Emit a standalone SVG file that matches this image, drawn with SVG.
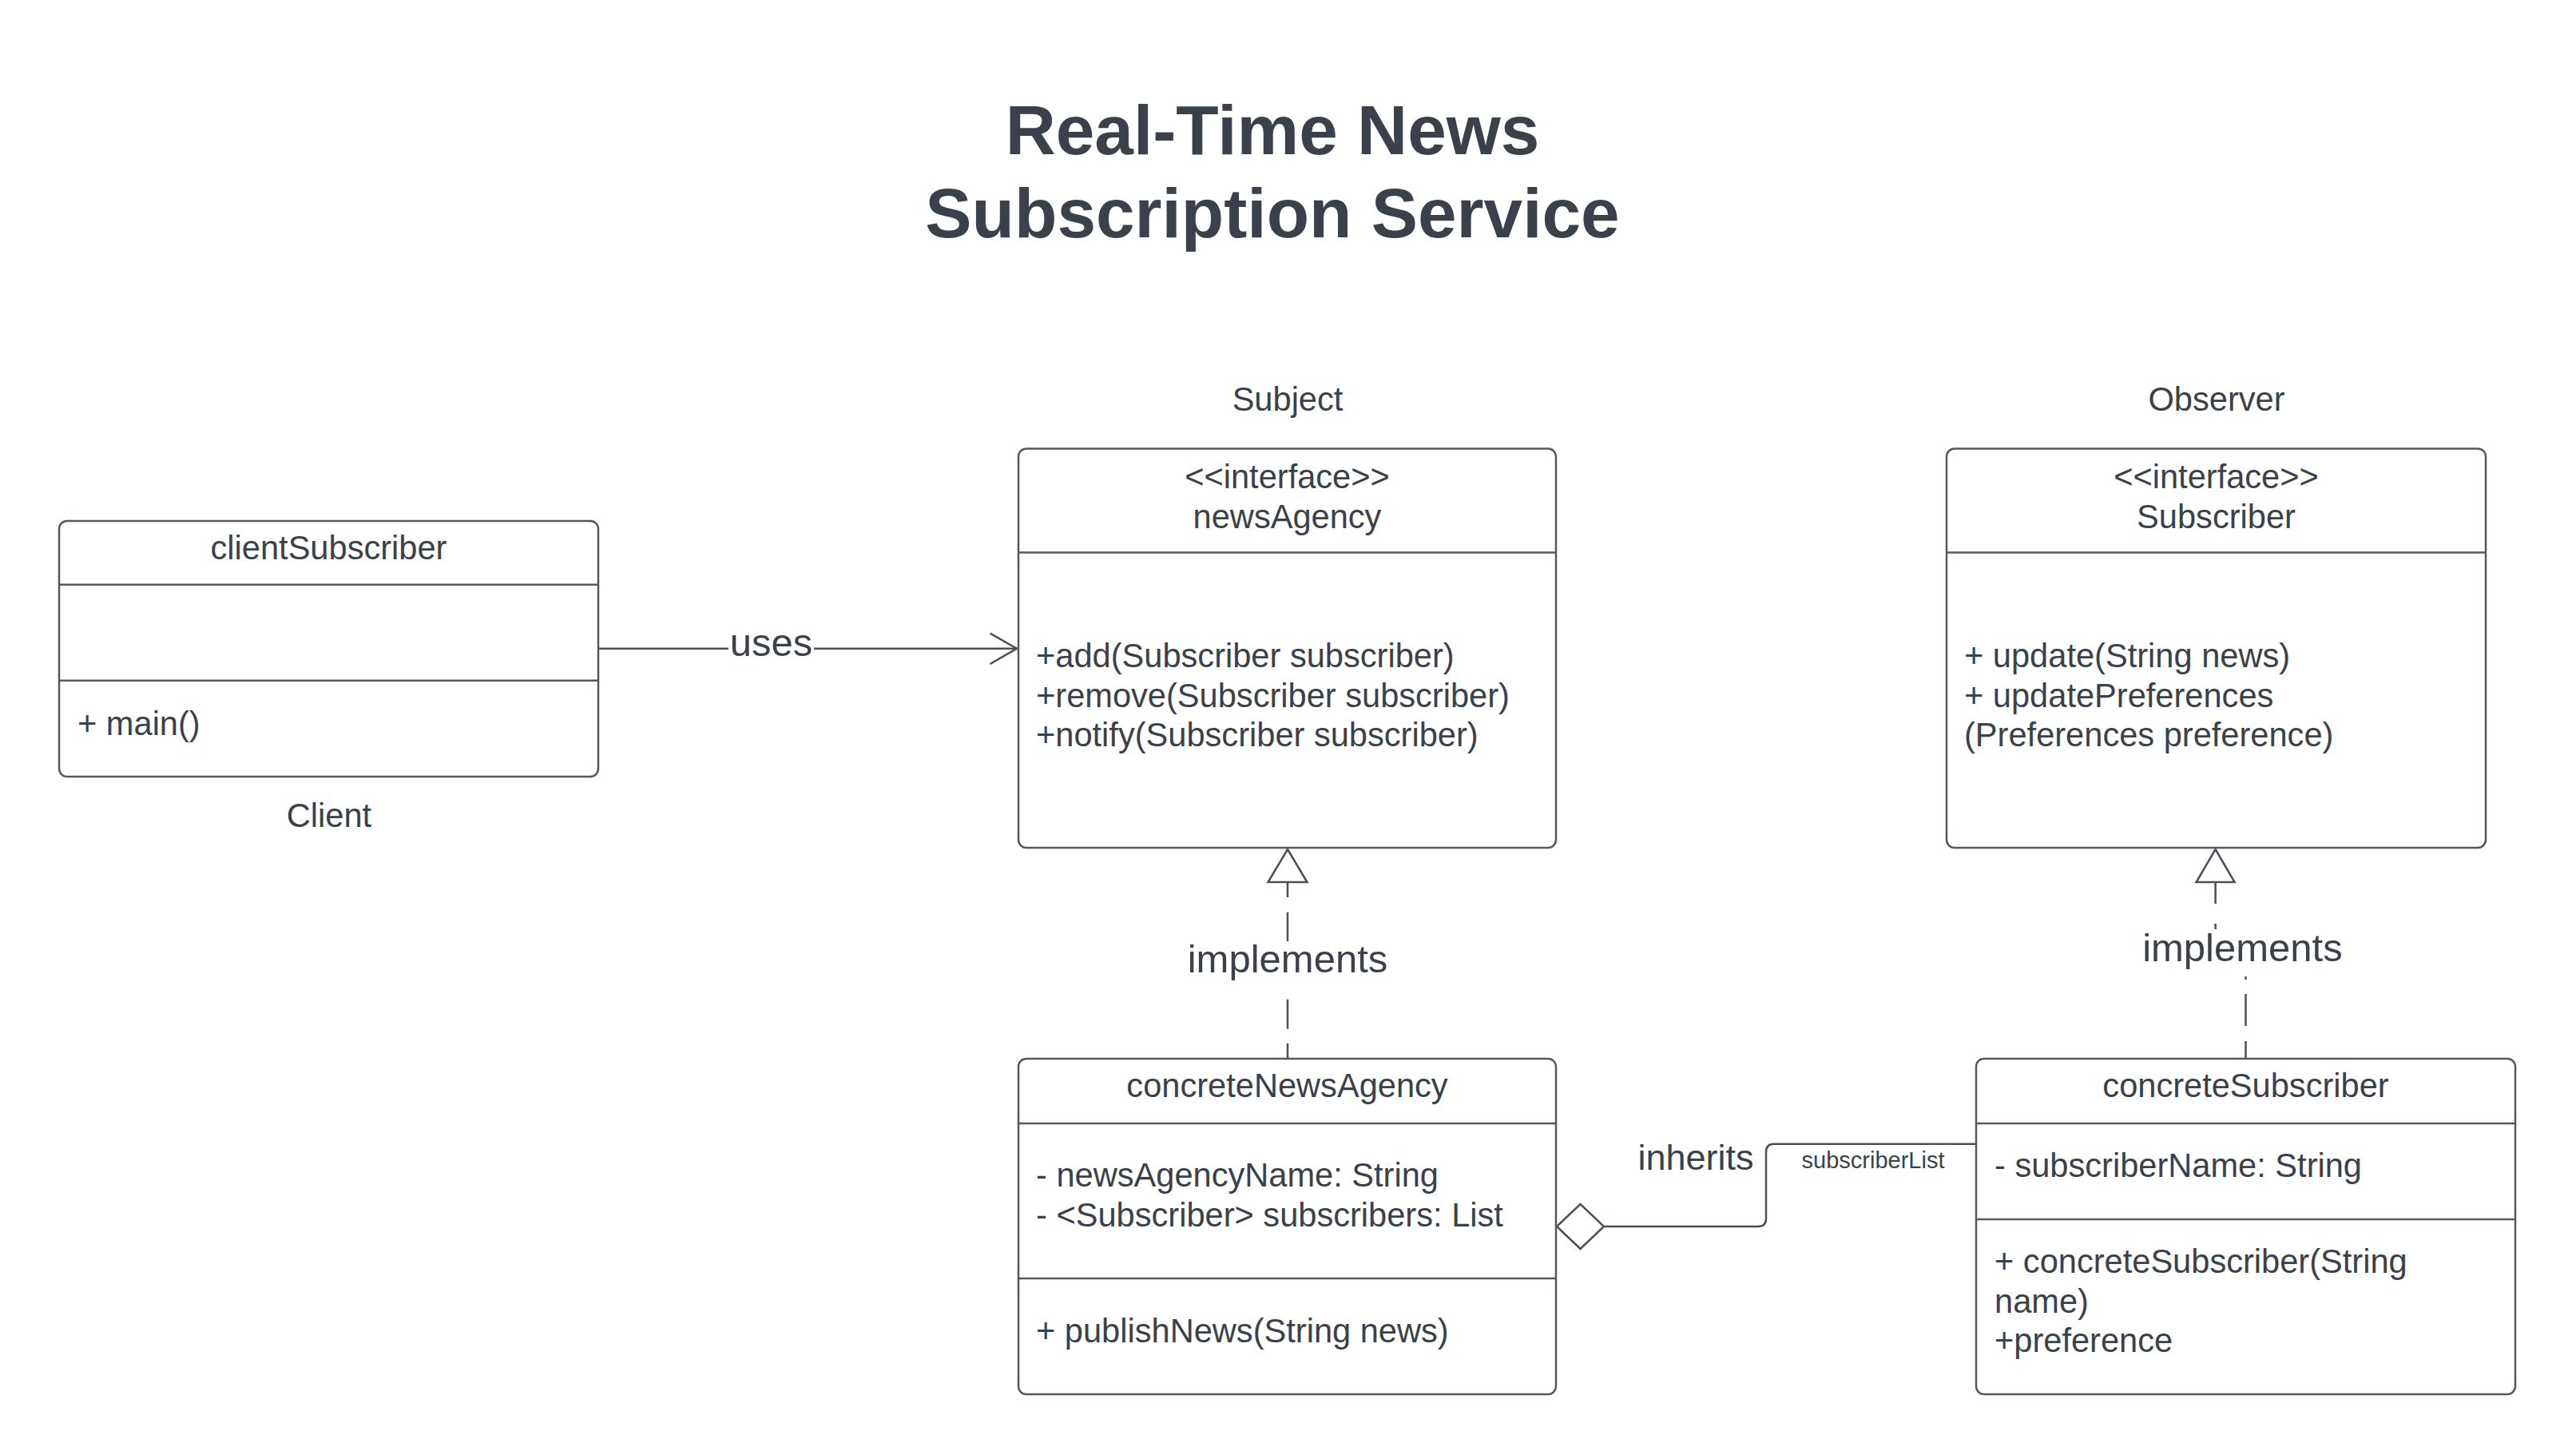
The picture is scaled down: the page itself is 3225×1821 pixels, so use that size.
<svg xmlns="http://www.w3.org/2000/svg" width="3225" height="1821" viewBox="0 0 3225 1821">
<style>
text{font-family:"Liberation Sans",Arial,sans-serif;fill:#3b414a;font-size:41.6px}
.title{font-size:87.4px;font-weight:bold;text-anchor:middle}
.c{text-anchor:middle}
.lbl{font-size:49px;text-anchor:middle}
.box{fill:#ffffff;stroke:#55595f;stroke-width:2.5}
.div{stroke:#55595f;stroke-width:2.5}
.conn{fill:none;stroke:#4b5058;stroke-width:2.5}
.head{fill:#ffffff;stroke:#4b5058;stroke-width:2.5;stroke-linejoin:miter}
.bg{fill:#ffffff}
</style>
<rect width="3225" height="1821" fill="#ffffff"/>
<g id="title">
<text class="title" x="1593" y="193">Real-Time News</text>
<text class="title" x="1593" y="297">Subscription Service</text>
</g>
<g id="connectors">
<path class="conn" d="M749 811.7 H1273"/>
<path class="conn" d="M1239.6 792.7 L1273 811.7 L1239.6 831"/>
<rect class="bg" x="912" y="778" width="107" height="54"/>
<text class="lbl" x="965.5" y="821">uses</text>
<path class="conn" d="M1612 1104 V1123 M1612 1141.7 V1178 M1612 1250.7 V1287.7 M1612 1305.7 V1326"/>
<polygon class="head" points="1612,1063 1636.5,1104 1587.5,1104"/>
<text class="lbl" x="1612" y="1216.7">implements</text>
<path class="conn" d="M2773.6 1104 V1131 M2773.6 1156 V1163 M2811.5 1222 V1226 M2811.5 1244 V1284 M2811.5 1303 V1326"/>
<polygon class="head" points="2773.6,1063 2797.6,1104 2749.6,1104"/>
<text class="lbl" x="2807.4" y="1203">implements</text>
<path class="conn" d="M2008 1535 H2201 Q2211 1535 2211 1525 V1441.7 Q2211 1431.7 2221 1431.7 H2474"/>
<polygon class="head" points="1949,1535 1978.5,1507 2008,1535 1978.5,1563"/>
<text x="2123" y="1464" style="font-size:45px;text-anchor:middle">inherits</text>
<text x="2345" y="1462" style="font-size:29px;text-anchor:middle">subscriberList</text>
</g>
<g id="clientSubscriber">
<rect class="box" x="74" y="652" width="675" height="320" rx="10"/>
<line class="div" x1="74" y1="731.7" x2="749" y2="731.7"/>
<line class="div" x1="74" y1="851.7" x2="749" y2="851.7"/>
<text class="c" x="411.5" y="700">clientSubscriber</text>
<text x="97" y="920">+ main()</text>
<text class="c" x="412" y="1035">Client</text>
</g>
<g id="newsAgency">
<text class="c" x="1612" y="514">Subject</text>
<rect class="box" x="1275" y="561.5" width="673" height="499.5" rx="10"/>
<line class="div" x1="1275" y1="691.5" x2="1948" y2="691.5"/>
<text class="c" x="1611.5" y="611">&lt;&lt;interface&gt;&gt;</text>
<text class="c" x="1611.5" y="660.5">newsAgency</text>
<text x="1297" y="835">+add(Subscriber subscriber)</text>
<text x="1297" y="884.5">+remove(Subscriber subscriber)</text>
<text x="1297" y="934">+notify(Subscriber subscriber)</text>
</g>
<g id="Subscriber">
<text class="c" x="2775" y="514">Observer</text>
<rect class="box" x="2437" y="561.5" width="675" height="499.5" rx="10"/>
<line class="div" x1="2437" y1="691.5" x2="3112" y2="691.5"/>
<text class="c" x="2774.5" y="611">&lt;&lt;interface&gt;&gt;</text>
<text class="c" x="2774.5" y="660.5">Subscriber</text>
<text x="2459" y="835">+ update(String news)</text>
<text x="2459" y="884.5">+ updatePreferences</text>
<text x="2459" y="934">(Preferences preference)</text>
</g>
<g id="concreteNewsAgency">
<rect class="box" x="1275" y="1325" width="673" height="420" rx="10"/>
<line class="div" x1="1275" y1="1406" x2="1948" y2="1406"/>
<line class="div" x1="1275" y1="1600" x2="1948" y2="1600"/>
<text class="c" x="1611.5" y="1373">concreteNewsAgency</text>
<text x="1297" y="1485">- newsAgencyName: String</text>
<text x="1297" y="1535">- &lt;Subscriber&gt; subscribers: List</text>
<text x="1297" y="1680">+ publishNews(String news)</text>
</g>
<g id="concreteSubscriber">
<rect class="box" x="2474" y="1325" width="675" height="420" rx="10"/>
<line class="div" x1="2474" y1="1406" x2="3149" y2="1406"/>
<line class="div" x1="2474" y1="1526" x2="3149" y2="1526"/>
<text class="c" x="2811.5" y="1373">concreteSubscriber</text>
<text x="2497" y="1473">- subscriberName: String</text>
<text x="2497" y="1593">+ concreteSubscriber(String</text>
<text x="2497" y="1643">name)</text>
<text x="2497" y="1692">+preference</text>
</g>
</svg>
